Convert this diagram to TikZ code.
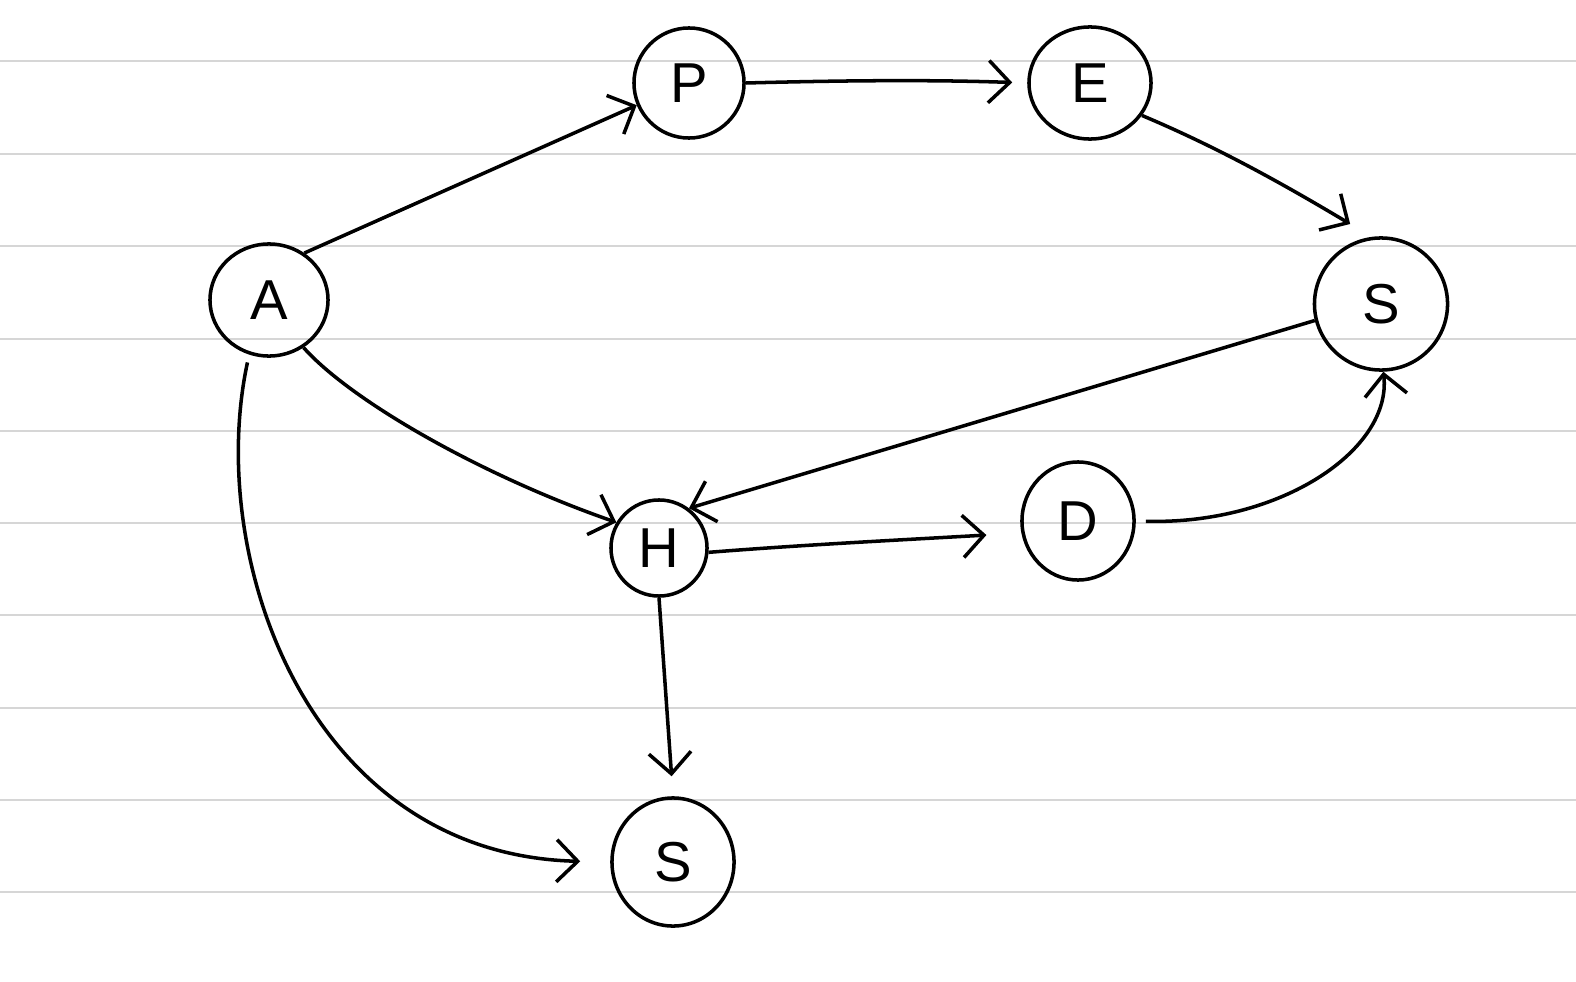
\documentclass[tikz,border=0pt]{standalone}
\usepackage{fontspec}
\setmainfont{Liberation Sans}
\usetikzlibrary{arrows.meta,shapes.geometric}
\definecolor{rule}{RGB}{214,214,214}
\begin{document}
\begin{tikzpicture}[x=0.01cm,y=-0.01cm,
  letter/.style={draw,ellipse,line width=1pt,inner sep=0pt,
    font=\fontsize{16}{19}\selectfont},
  link/.style={line width=1pt,-{Straight Barb[length=6pt,width=12pt,line width=1pt]}},
  ruling/.style={rule,line width=0.7pt}]
\useasboundingbox (0,0) rectangle (1576,982);
\fill[white] (0,0) rectangle (1576,982);
% notebook ruling
\foreach \yy in {61,154,246,339,431,523,615,708,800,892}
  \draw[ruling] (0,\yy) -- (1576,\yy);
% vertices
\node[letter,minimum width=1.18cm,minimum height=1.12cm] (a)  at (269,300) {A};
\node[letter,minimum width=1.10cm,minimum height=1.10cm] (p)  at (689,83)  {P};
\node[letter,minimum width=1.22cm,minimum height=1.12cm] (e)  at (1090,83) {E};
\node[letter,minimum width=1.33cm,minimum height=1.32cm] (s1) at (1381,304) {S};
\node[letter,minimum width=0.96cm,minimum height=0.96cm] (h)  at (659,548) {H};
\node[letter,minimum width=1.12cm,minimum height=1.18cm] (d)  at (1078,521) {D};
\node[letter,minimum width=1.22cm,minimum height=1.28cm] (s2) at (673,862) {S};
% edges
\draw[link] (a.53) -- (p.203);
\draw[link,shorten >=0.15cm] (p.east) .. controls (860,80) and (940,80) .. (e.west);
\draw[link,shorten >=0.25cm] (e.-32) .. controls (1200,140) and (1260,170) .. (s1.98);
\draw[link] (s1.194) -- (h.53);
\draw[link] (a.-54) .. controls (350,400) and (480,475) .. (h.149);
\draw[link,shorten >=0.35cm] (h.-5) .. controls (800,545) and (900,540) .. (d.192);
\draw[link,shorten <=0.1cm] (d.east) .. controls (1280,525) and (1392,450) .. (s1.-88);
\draw[link,shorten >=0.2cm] (h.south) -- (s2.north);
\draw[link,shorten >=0.3cm,shorten <=0.08cm] (a.-110) .. controls (205,560) and (310,855) .. (s2.west);
\end{tikzpicture}
\end{document}
